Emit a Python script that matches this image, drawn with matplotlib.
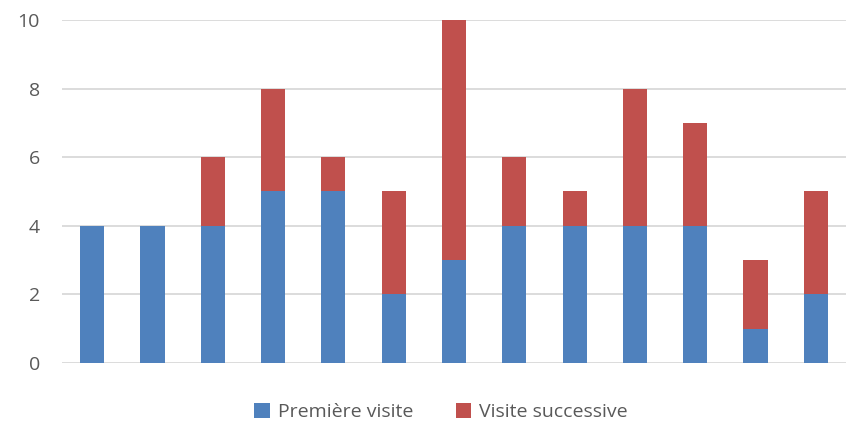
import numpy as np
import matplotlib.pyplot as plt

# visits per slot
premiere = [4, 4, 4, 5, 5, 2, 3, 4, 4, 4, 4, 1, 2]
successive = [0, 0, 2, 3, 1, 3, 7, 2, 1, 4, 3, 2, 3]
series_names = ['Première visite', 'Visite successive']
colors = ['#4F81BD', '#C0504D']
yticks = [0, 2, 4, 6, 8, 10]

plt.rcParams['font.family'] = ['Open Sans', 'DejaVu Sans']

fig = plt.figure(figsize=(8.46, 4.24), dpi=100)
ax = fig.add_axes([62 / 846, 1 - 363 / 424, 784 / 846, 343 / 424])

x = np.arange(len(premiere))
ax.bar(x, premiere, width=0.4, color=colors[0], label=series_names[0], zorder=3)
ax.bar(x, successive, width=0.4, bottom=premiere, color=colors[1],
       label=series_names[1], zorder=3)

ax.set_xlim(-0.5, len(premiere) - 0.5)
ax.set_ylim(0, 10)
ax.set_yticks(yticks)
ax.set_xticks([])
ax.grid(axis='y', color='#D9D9D9', linewidth=1.3, zorder=0)
for s in ax.spines.values():
    s.set_visible(False)
ax.tick_params(axis='y', length=0, pad=16, labelsize=14, labelcolor='#595959')

fig.legend(loc='center', bbox_to_anchor=(441 / 846, 1 - 412 / 424), ncol=2,
           frameon=False, fontsize=14, labelcolor='#595959', handlelength=0.8,
           handleheight=0.8, handletextpad=0.4, columnspacing=2.2)

fig.savefig('out.png', dpi=100)
